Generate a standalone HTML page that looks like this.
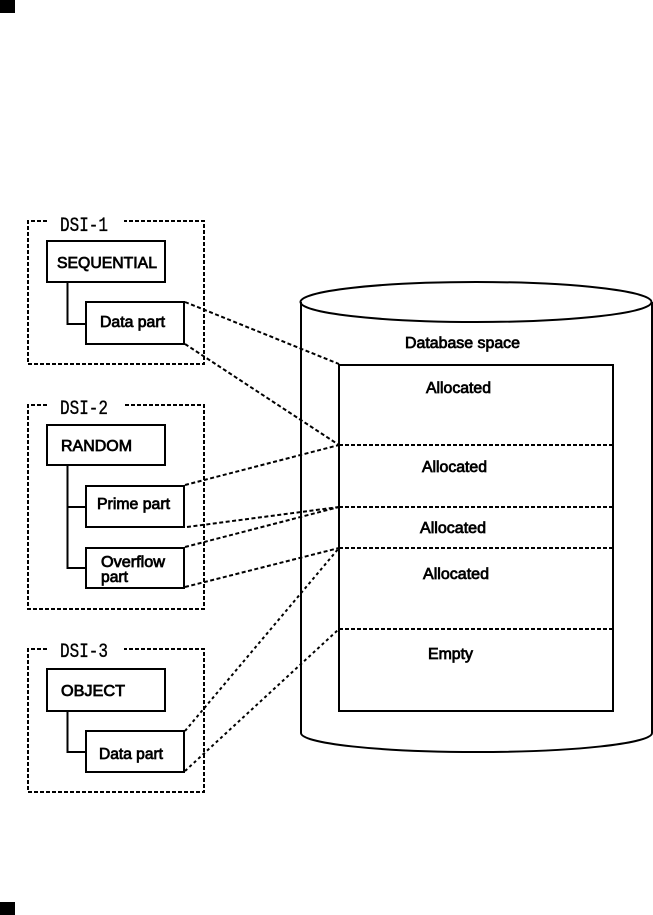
<!DOCTYPE html>
<html>
<head>
<meta charset="utf-8">
<style>
html,body{margin:0;padding:0;background:#fff;width:653px;height:915px;overflow:hidden}
svg{display:block}
.t{font-family:"Liberation Sans",Arial,sans-serif;font-size:15.5px;fill:#000;stroke:#000;stroke-width:.75px}
.m{font-family:"Liberation Mono","DejaVu Sans Mono",monospace;font-size:20px;fill:#000;stroke:#000;stroke-width:.35px}
</style>
</head>
<body>
<svg width="653" height="915" viewBox="0 0 653 915" xmlns="http://www.w3.org/2000/svg">
<rect width="653" height="915" fill="#fff"/>
<rect x="0" y="0" width="15" height="13" fill="#000"/>
<rect x="0" y="902" width="15" height="13" fill="#000"/>

<!-- DSI frames -->
<g fill="none" stroke="#000" stroke-width="2" stroke-dasharray="4 2" shape-rendering="crispEdges">
<path d="M47 221H28V364H204V221H124"/>
<path d="M47 405H28V609H204V405H124"/>
<path d="M47 649H28V792H204V649H124"/>
</g>
<text class="m" x="60" y="231" textLength="48" lengthAdjust="spacingAndGlyphs">DSI-1</text>
<text class="m" x="60" y="414" textLength="48" lengthAdjust="spacingAndGlyphs">DSI-2</text>
<text class="m" x="60" y="657" textLength="48" lengthAdjust="spacingAndGlyphs">DSI-3</text>

<!-- Boxes and tree connectors -->
<g fill="none" stroke="#000" stroke-width="2.2" shape-rendering="crispEdges">
<rect x="47" y="241" width="118" height="41"/>
<rect x="86" y="302" width="98" height="42"/>
<path d="M67.5 282V324H86"/>
<rect x="47" y="425" width="118" height="40"/>
<rect x="86" y="486" width="98" height="41"/>
<rect x="86" y="548" width="98" height="40"/>
<path d="M67.5 465V568H86M67.5 507H86"/>
<rect x="47" y="669" width="118" height="42"/>
<rect x="86" y="731" width="98" height="41"/>
<path d="M67.5 711V752H86"/>
</g>

<!-- Cylinder -->
<g fill="none" stroke="#000" stroke-width="2">
<ellipse cx="476" cy="302" rx="175.5" ry="20"/>
<path d="M301 302V733A175.5 19 0 0 0 652 733V302"/>
</g>
<rect x="339" y="365" width="274" height="346" fill="none" stroke="#000" stroke-width="2" shape-rendering="crispEdges"/>
<g stroke="#000" stroke-width="2" stroke-dasharray="4 2" fill="none" shape-rendering="crispEdges">
<path d="M339 445H612M339 507H612M339 548H612M339 629H612"/>
</g>

<!-- Mapping lines -->
<g stroke="#000" stroke-width="2" stroke-dasharray="4 2.5" fill="none">
<path d="M185 302L339 364"/>
<path d="M185 344L339 445"/>
<path d="M185 485L339 445"/>
<path d="M187 527L339 507"/>
<path d="M185 547L339 507"/>
<path d="M185 587L339 548"/>
<path d="M185 731L339 548" stroke-dasharray="3 3"/>
<path d="M185 771L339 629" stroke-dasharray="3 3"/>
</g>

<!-- Labels -->
<text class="t" x="57" y="268" textLength="100" lengthAdjust="spacingAndGlyphs">SEQUENTIAL</text>
<text class="t" x="100" y="327" textLength="65" lengthAdjust="spacingAndGlyphs">Data part</text>
<text class="t" x="61" y="451" textLength="71" lengthAdjust="spacingAndGlyphs">RANDOM</text>
<text class="t" x="97" y="509" textLength="73" lengthAdjust="spacingAndGlyphs">Prime part</text>
<text class="t" x="101" y="567" textLength="64" lengthAdjust="spacingAndGlyphs">Overflow</text>
<text class="t" x="101" y="582" textLength="27" lengthAdjust="spacingAndGlyphs">part</text>
<text class="t" x="61" y="696" textLength="64" lengthAdjust="spacingAndGlyphs">OBJECT</text>
<text class="t" x="99" y="759" textLength="64" lengthAdjust="spacingAndGlyphs">Data part</text>
<text class="t" x="405" y="348" textLength="115" lengthAdjust="spacingAndGlyphs">Database space</text>
<text class="t" x="426" y="393" textLength="65" lengthAdjust="spacingAndGlyphs">Allocated</text>
<text class="t" x="422" y="472" textLength="65" lengthAdjust="spacingAndGlyphs">Allocated</text>
<text class="t" x="420" y="533" textLength="66" lengthAdjust="spacingAndGlyphs">Allocated</text>
<text class="t" x="423" y="579" textLength="66" lengthAdjust="spacingAndGlyphs">Allocated</text>
<text class="t" x="428" y="659" textLength="45" lengthAdjust="spacingAndGlyphs">Empty</text>
</svg>
</body>
</html>
